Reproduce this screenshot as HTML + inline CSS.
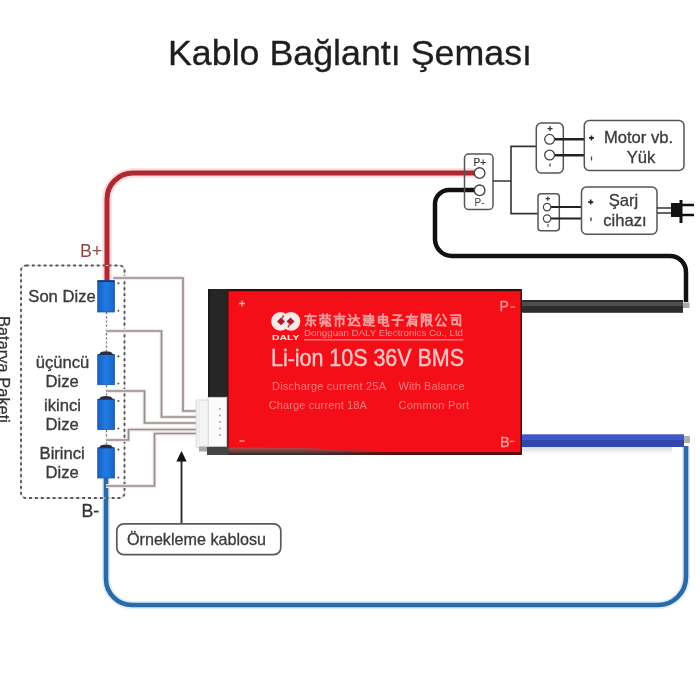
<!DOCTYPE html>
<html><head><meta charset="utf-8">
<style>
html,body{margin:0;padding:0;background:#fff;width:700px;height:700px;overflow:hidden}
svg{display:block;filter:blur(0.4px)}
text{font-family:"Liberation Sans",sans-serif}
</style></head>
<body>
<svg width="700" height="700" viewBox="0 0 700 700">
<defs>
<linearGradient id="bot" x1="0" y1="0" x2="0" y2="1">
<stop offset="0" stop-color="#b05050" stop-opacity="0.9"/><stop offset="0.5" stop-color="#6a4040"/><stop offset="1" stop-color="#2e2828"/>
</linearGradient>
<linearGradient id="blk" x1="0" y1="0" x2="1" y2="0">
<stop offset="0" stop-color="#151515"/><stop offset="0.15" stop-color="#262626"/><stop offset="0.85" stop-color="#262626"/><stop offset="1" stop-color="#3a1515"/>
</linearGradient>
<linearGradient id="bat" x1="0" y1="0" x2="1" y2="0">
<stop offset="0" stop-color="#1b60c0"/><stop offset="0.5" stop-color="#1f7ce6"/><stop offset="1" stop-color="#1b64c4"/>
</linearGradient>
<linearGradient id="shd" x1="0" y1="0" x2="0" y2="1"><stop offset="0" stop-color="#d8d8d8"/><stop offset="1" stop-color="#ffffff"/></linearGradient>
<linearGradient id="fadeG" x1="207" y1="0" x2="400" y2="0" gradientUnits="userSpaceOnUse"><stop offset="0" stop-color="#fff"/><stop offset="0.55" stop-color="#fff"/><stop offset="1" stop-color="#000"/></linearGradient>
<mask id="fadeR" maskUnits="userSpaceOnUse" x="200" y="440" width="210" height="20"><rect x="200" y="440" width="210" height="20" fill="url(#fadeG)"/></mask>
</defs>
<rect width="700" height="700" fill="#ffffff"/>
<!-- Title -->
<text x="168" y="64.5" font-size="35" fill="#1e1e1e" stroke="#1e1e1e" stroke-width="0.3" textLength="364" lengthAdjust="spacingAndGlyphs">Kablo Bağlantı Şeması</text>

<!-- red wire -->
<path d="M107 281 L107 199 A26 26 0 0 1 133 173 L475 173" fill="none" stroke="#fbdcdc" stroke-width="9.5"/>
<path d="M107 281 L107 199 A26 26 0 0 1 133 173 L475 173" fill="none" stroke="#ad2830" stroke-width="5"/>
<!-- black wire -->
<path d="M475 190 L449 190 A14 14 0 0 0 435 204 L435 239 A17 17 0 0 0 452 256 L670 256 A16 16 0 0 1 686 272 L686 302" fill="none" stroke="#111" stroke-width="4.5"/>
<!-- blue wire -->
<path d="M686 446 L686 577 A28 28 0 0 1 658 605 L132 605 A26 26 0 0 1 106 579 L106 478" fill="none" stroke="#dcecf8" stroke-width="8"/>
<path d="M686 446 L686 577 A28 28 0 0 1 658 605 L132 605 A26 26 0 0 1 106 579 L106 478" fill="none" stroke="#2c69a9" stroke-width="4.6"/>

<!-- B+ / B- labels -->
<text x="80" y="256.8" font-size="17.8" fill="#8e4646">B+</text>
<text x="81.5" y="516.8" font-size="17.8" fill="#333" stroke="#333" stroke-width="0.3">B-</text>

<!-- dashed battery pack box -->
<rect x="21" y="265.5" width="103.5" height="232.5" rx="5" fill="none" stroke="#d4d4d4" stroke-width="1.2"/>
<rect x="21" y="265.5" width="103.5" height="232.5" rx="5" fill="none" stroke="#555" stroke-width="1.9" stroke-dasharray="2.8 3.1"/>
<text transform="translate(-2.5,316) rotate(90)" x="0" y="0" font-size="17" fill="#333" stroke="#333" stroke-width="0.25" textLength="107" lengthAdjust="spacingAndGlyphs">Batarya Paketi</text>

<!-- battery interconnect dashes -->
<path d="M106.5 312 L106.5 351 M106.5 385 L106.5 396 M106.5 430 L106.5 444" stroke="#777" stroke-width="1.3" stroke-dasharray="2.2 2"/>

<!-- sampling wires -->
<g fill="none" stroke="#efe6e6" stroke-width="3.8">
<path d="M113 278 L183 278 L183 411 L196 411"/>
<path d="M106 331 L161.5 331 L161.5 417 L196 417"/>
<path d="M106 391 L144.5 391 L144.5 423 L196 423"/>
<path d="M106 440 L128.5 440 L128.5 429.5 L196 429.5"/>
<path d="M106 486 L154.5 486 L154.5 433.5 L196 433.5"/>
</g>
<g fill="none" stroke="#968e8e" stroke-width="1.7">
<path d="M113 278 L183 278 L183 411 L196 411"/>
<path d="M106 331 L161.5 331 L161.5 417 L196 417"/>
<path d="M106 391 L144.5 391 L144.5 423 L196 423"/>
<path d="M106 440 L128.5 440 L128.5 429.5 L196 429.5"/>
<path d="M106 486 L154.5 486 L154.5 433.5 L196 433.5"/>
</g>

<!-- batteries -->
<g fill="url(#bat)" stroke="#1a55a8" stroke-width="0.8">
<rect x="97.7" y="280.6" width="16.8" height="31.4"/>
<rect x="97.7" y="354.5" width="16.8" height="30.2"/>
<rect x="97.7" y="399.2" width="16.8" height="30.3"/>
<rect x="97.7" y="447.8" width="16.8" height="30.2"/>
</g>
<g fill="#2a2c48">
<rect x="98" y="280.6" width="16.2" height="1.3"/>
<path d="M98.5 355 L101 352 Q106 350.5 111 352 L113.7 355 Z"/>
<path d="M98.5 399.7 L101 396.7 Q106 395.2 111 396.7 L113.7 399.7 Z"/>
<path d="M98.5 448.3 L101 445.3 Q106 443.8 111 445.3 L113.7 448.3 Z"/>
</g>
<g fill="#555">
<circle cx="118.4" cy="283.3" r="1.1"/><circle cx="118.4" cy="310.7" r="1"/>
<circle cx="118.4" cy="356.4" r="1.1"/><circle cx="118.4" cy="383.5" r="1"/>
<circle cx="118.4" cy="401" r="1.1"/><circle cx="118.4" cy="428.5" r="1"/>
<circle cx="118.4" cy="449.6" r="1.1"/><circle cx="118.4" cy="477.5" r="1"/>
</g>

<!-- battery labels -->
<g font-size="16.6" fill="#3a3a3a" stroke="#3a3a3a" stroke-width="0.35" text-anchor="middle">
<text x="62" y="301.5">Son Dize</text>
<text x="62.6" y="367.5">üçüncü</text>
<text x="62.2" y="386.5">Dize</text>
<text x="62.5" y="410.5">ikinci</text>
<text x="62.2" y="429.5">Dize</text>
<text x="62.2" y="459">Birinci</text>
<text x="62.2" y="477.5">Dize</text>
</g>

<!-- callout -->
<path d="M181.5 523.5 L181.5 459" stroke="#2a2a2a" stroke-width="1.9"/>
<path d="M176.3 461.5 L181.5 451 L186.7 461.5 Z" fill="#111"/>
<rect x="116.8" y="523.8" width="164" height="30.8" rx="7" fill="#fff" stroke="#5a5a5a" stroke-width="1.7"/>
<text x="127" y="545" font-size="16.6" fill="#3a3a3a" stroke="#3a3a3a" stroke-width="0.3" textLength="139" lengthAdjust="spacingAndGlyphs">Örnekleme kablosu</text>

<!-- BMS board -->
<rect x="208" y="289" width="314" height="166" fill="#3a0c0c"/>
<rect x="208" y="289" width="20.5" height="112" fill="url(#blk)"/>
<rect x="228.5" y="291.2" width="292" height="161.3" fill="#f40f18"/>
<rect x="208" y="452.3" width="314" height="2.5" fill="#5a0c0c"/>
<path d="M207 447.5 L300 448 L400 451.5 L400 455 L207 455 Z" fill="url(#bot)" mask="url(#fadeR)"/>
<!-- thick P- cable -->
<rect x="522" y="300" width="161" height="12.8" fill="#2c2c2c"/>
<rect x="522" y="302" width="161" height="4" fill="#4e4e4e"/>
<rect x="683" y="302.5" width="6.5" height="5.5" fill="#aaa"/>
<!-- thick B- cable -->
<rect x="522" y="434.3" width="162" height="5.7" fill="#4058c8"/>
<rect x="522" y="440" width="162" height="7" fill="#3245ac"/>
<rect x="684" y="436" width="6" height="7" fill="#b0b0b0"/>
<rect x="522" y="447" width="150" height="7" fill="url(#shd)"/>

<!-- connector -->
<rect x="208" y="397.3" width="18.8" height="49.2" fill="#fbfbfb" stroke="#d0d0d0" stroke-width="0.8"/>
<rect x="196.2" y="400" width="12" height="47.3" fill="#f4f4f4" stroke="#d4d4d4" stroke-width="0.9"/>
<path d="M199 402 V445" stroke="#e2e2e2" stroke-width="0.8"/>
<rect x="199" y="446.5" width="9" height="5" fill="#a8a8a8"/>
<rect x="207" y="447" width="21.5" height="8" fill="#444"/>
<g fill="#a0a0a0"><circle cx="219.8" cy="409" r="0.9"/><circle cx="219.8" cy="415.5" r="0.9"/><circle cx="219.8" cy="422" r="0.9"/><circle cx="219.8" cy="428.5" r="0.9"/><circle cx="219.8" cy="435" r="0.9"/></g>

<!-- board text -->
<path d="M239 303.5 H245 M242 300.5 V306.5" stroke="#f7b5b5" stroke-width="1.3"/>
<path d="M239.5 441 H244.5" stroke="#f7b5b5" stroke-width="1.2"/>
<text x="499.5" y="311.2" font-size="14" fill="#f59a9a" stroke="#f59a9a" stroke-width="0.3">P</text><path d="M510.3 307 H515" stroke="#f59a9a" stroke-width="1.1"/>
<text x="500" y="446.8" font-size="14.5" fill="#f59a9a" stroke="#f59a9a" stroke-width="0.3">B</text><path d="M509.5 441.3 H514.5" stroke="#f59a9a" stroke-width="1.1"/>

<!-- logo -->
<g fill="#fbe9e9">
<circle cx="280.5" cy="321.4" r="9.3"/>
<circle cx="291" cy="321.4" r="9.3"/>
</g>
<g fill="#a81c2c">
<path d="M277 321.4 L281 317.6 L285 321.4 L281 325.2 Z"/>
<path d="M286.5 321.4 L290.5 317.6 L294.5 321.4 L290.5 325.2 Z"/>
</g>
<path d="M282 318.5 L283.6 315.3 M289.5 324.3 L288 327.5" stroke="#b8404a" stroke-width="1.6"/>
<text x="272" y="339.6" font-size="6.6" font-weight="bold" fill="#fbe0e0" textLength="27.5" lengthAdjust="spacingAndGlyphs">DALY</text>

<!-- Chinese text approximations -->
<g stroke="#f29c9c" stroke-width="1.7" fill="none" stroke-linecap="round" stroke-linejoin="round">
<path transform="translate(304.0,313.5) scale(1.08)" d="M1 2.5H11M5.5 0.5L3 6.5H10.5M6.5 4V11.5L5 10.5M3.5 8.5L1.5 11M8.5 8.5L10.5 11"/>
<path transform="translate(318.5,313.5) scale(1.08)" d="M1 2H11M4 0.5V3.5M8 0.5V3.5M1.5 6.5V4.8H10.5V6.5M3.5 7.2H8.5M1.5 9H10.5M5 9L2.5 12M7 9V11.5H11V10.3"/>
<path transform="translate(333.0,313.5) scale(1.08)" d="M6 0V2M1 2.8H11M2.5 5V11.5M2.5 5H9.8V10.2L8.5 9.5M6 2.8V12"/>
<path transform="translate(347.5,313.5) scale(1.08)" d="M1.5 1L2.8 2.8M0.5 5H2.5V9L1 11M1 11Q5 10.5 11.5 11.5M4 4.5H11M7.5 1V4.5L4 9.5M7.5 5L11 9.5"/>
<path transform="translate(362.0,313.5) scale(1.08)" d="M1 2H3.2L1.5 6H3.5L1.5 10.5Q6 11 11.5 11.5M4.5 2.5H10.5V4.5H4M4 6.5H11M4.5 8.5H10.5M7.5 0.5V10.5"/>
<path transform="translate(376.5,313.5) scale(1.08)" d="M2 3H10V8.5H2ZM2 5.75H10M6 0.5V10.5Q6 11.5 8 11.5H11V10"/>
<path transform="translate(391.0,313.5) scale(1.08)" d="M2 1.5H9.5L6 4.5M1 6H11M6 4.5V11.5L4.5 10.5"/>
<path transform="translate(405.5,313.5) scale(1.08)" d="M1 3H11M5.5 0.5L1.5 11.5M4 5.5H10V11.5L8.5 10.5M4 5.5V11.5M4 7.5H10M4 9.5H10"/>
<path transform="translate(420.0,313.5) scale(1.08)" d="M1.5 0.5V12M1.5 0.8H4.2L2.8 4Q4.8 6 2.5 8M5.5 1H10V6H5.5ZM5.5 3.5H10M5.5 1V11.5L8 10M7 6L11 11.5M10.3 7L8.5 8.5"/>
<path transform="translate(434.5,313.5) scale(1.08)" d="M4 1L1 6M8 1L11 6M5.5 5L2.5 11H10M8 8.5L10 11.5"/>
<path transform="translate(449.0,313.5) scale(1.08)" d="M1.5 1.5H10.5V11.5L9 10.5M2.5 4H8.5M3 6H7.5V10H3Z"/>

</g>
<text x="304" y="336.3" font-size="8.2" fill="#f08c8c" textLength="159" lengthAdjust="spacingAndGlyphs">Dongguan DALY Electronics Co., Ltd</text>
<rect x="304" y="339.3" width="159.5" height="1.1" fill="#f49c9c"/>

<text x="271" y="365.3" transform="translate(0,-28.5) scale(1,1.08)" font-size="21.5" fill="#f8c4c4" stroke="#f8c4c4" stroke-width="0.35" textLength="193" lengthAdjust="spacing">Li-ion 10S 36V BMS</text>
<g font-size="11" fill="#f27c7c">
<text x="272" y="389.8" textLength="114" lengthAdjust="spacing">Discharge current 25A</text>
<text x="398.5" y="389.8" textLength="66" lengthAdjust="spacing">With Balance</text>
<text x="268.8" y="408.8" textLength="98" lengthAdjust="spacing">Charge current 18A</text>
<text x="398.5" y="408.8" textLength="70.5" lengthAdjust="spacing">Common Port</text>
</g>

<!-- right side: P box -->
<rect x="464.5" y="154" width="28.5" height="55.5" rx="4" fill="none" stroke="#555" stroke-width="1.5"/>
<text x="473.5" y="166" font-size="10" fill="#333" stroke="#333" stroke-width="0.2">P+</text>
<text x="474.5" y="205.5" font-size="10" fill="#444">P-</text>
<circle cx="479.6" cy="173.1" r="5.3" fill="#fff" stroke="#444" stroke-width="1.4"/>
<circle cx="479.6" cy="190.3" r="5.3" fill="#fff" stroke="#444" stroke-width="1.4"/>
<path d="M493 181 L511 181 M511 146.4 L511 214.5 M510.2 146.4 L536 146.4 M510.2 213.6 L538 213.6" stroke="#333" stroke-width="1.6" fill="none"/>

<!-- motor connector -->
<rect x="536.3" y="123" width="27" height="50" rx="5" fill="#fff" stroke="#555" stroke-width="1.5"/>
<path d="M547.5 128.6 H552.5 M550 126.1 V131.1" stroke="#333" stroke-width="1.3"/>
<path d="M550 163.5 V166.5" stroke="#444" stroke-width="1.3"/>
<path d="M554 139.3 L584 139.3 M554 155.3 L584 155.3" stroke="#222" stroke-width="2.4"/>
<circle cx="549.6" cy="139.3" r="4.9" fill="#fff" stroke="#444" stroke-width="1.3"/>
<circle cx="549.6" cy="155" r="4.9" fill="#fff" stroke="#444" stroke-width="1.3"/>
<rect x="584.3" y="120.5" width="99.7" height="50" rx="5" fill="#fff" stroke="#555" stroke-width="1.5"/>
<path d="M589 137.9 H594 M591.5 135.4 V140.4" stroke="#222" stroke-width="1.6"/>
<path d="M591.5 156.5 V160.5" stroke="#444" stroke-width="1.3"/>
<g font-size="16.6" fill="#3a3a3a" stroke="#3a3a3a" stroke-width="0.3" text-anchor="middle">
<text x="638.5" y="142.5">Motor vb.</text>
<text x="641" y="163">Yük</text>
</g>

<!-- charger connector -->
<rect x="538" y="193.8" width="21.3" height="37" rx="3" fill="#fff" stroke="#555" stroke-width="1.5"/>
<path d="M545.6 198.6 H550 M547.8 196.4 V200.8" stroke="#333" stroke-width="1.2"/>
<path d="M548 224 V227" stroke="#444" stroke-width="1.1"/>
<path d="M551 207.1 L581.4 207.1 M551 218.6 L581.4 218.6" stroke="#222" stroke-width="2"/>
<circle cx="547.1" cy="207.1" r="3.7" fill="#fff" stroke="#444" stroke-width="1.2"/>
<circle cx="547.1" cy="218.6" r="3.7" fill="#fff" stroke="#444" stroke-width="1.2"/>
<rect x="581.5" y="187" width="75.5" height="47.3" rx="5" fill="#fff" stroke="#555" stroke-width="1.5"/>
<path d="M588.2 202.1 H593.2 M590.7 199.6 V204.6" stroke="#222" stroke-width="1.6"/>
<path d="M591 217.5 V221" stroke="#444" stroke-width="1.4"/>
<g font-size="16.6" fill="#3a3a3a" stroke="#3a3a3a" stroke-width="0.3" text-anchor="middle">
<text x="623.5" y="205.5">Şarj</text>
<text x="625" y="225.5">cihazı</text>
</g>

<!-- plug -->
<path d="M657 208 L671 208 M657 213 L671 213" stroke="#333" stroke-width="1.6"/>
<rect x="671" y="203" width="11" height="14" fill="#111"/>
<rect x="679.5" y="200" width="3" height="23" fill="#111"/>
<path d="M682 205 L694 205 M682 215 L694 215" stroke="#111" stroke-width="2.4"/>
</svg>
</body></html>
